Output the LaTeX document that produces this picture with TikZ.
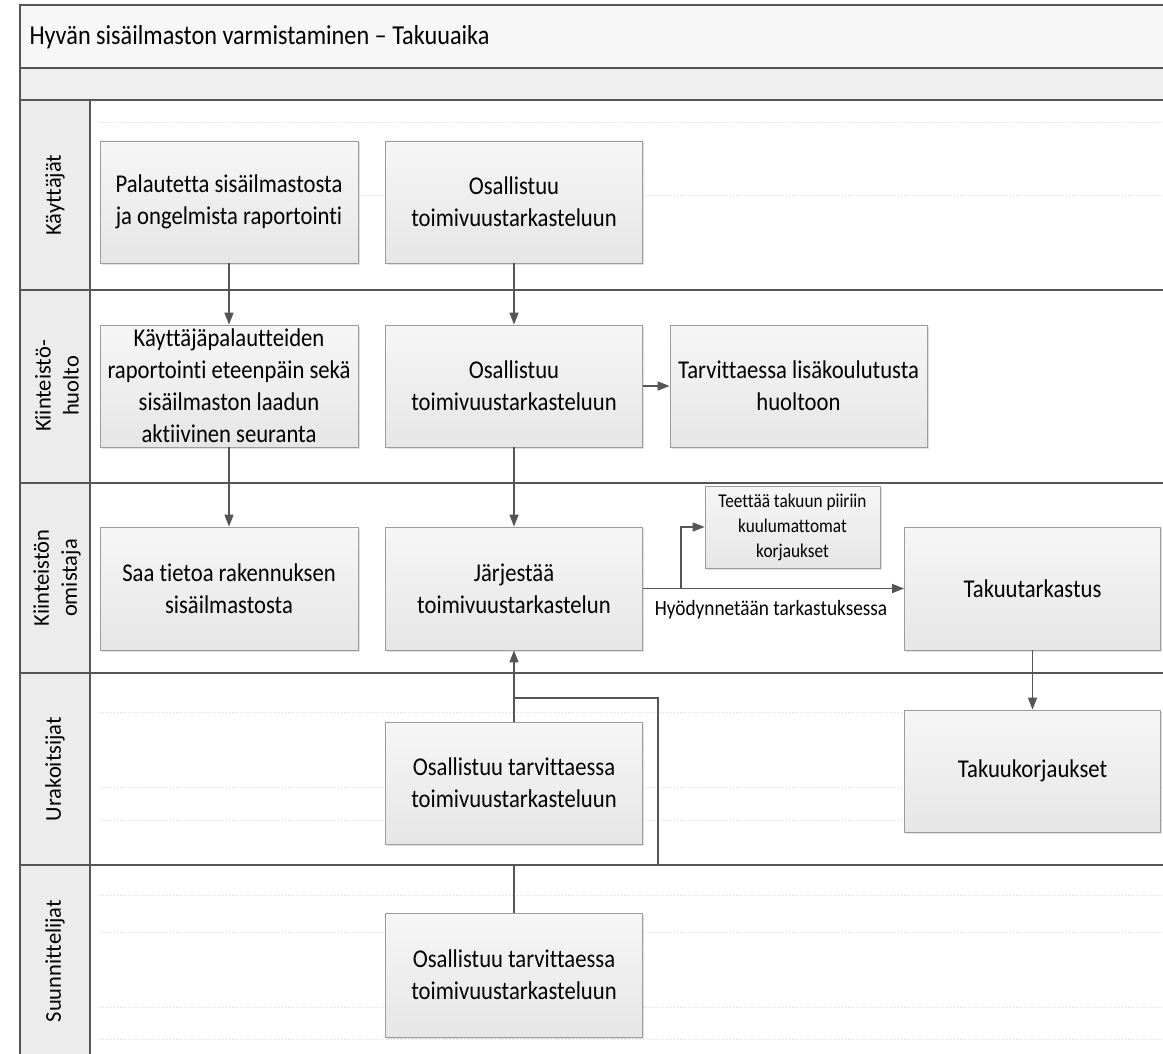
\documentclass[tikz,border=0pt]{standalone}
\usepackage{fontspec}
\setmainfont{Carlito}[Ligatures=NoCommon]
% horizontal text is set slightly condensed and taller
\newfontfamily\tallfont{Carlito}[FakeStretch=0.885,Ligatures=NoCommon]
\usetikzlibrary{arrows.meta,shadows}
\definecolor{linegray}{HTML}{555555}
\definecolor{boxedge}{HTML}{9C9C9C}
\definecolor{boxtop}{HTML}{F6F6F6}
\definecolor{boxbot}{HTML}{E6E6E6}
\definecolor{labfill}{HTML}{ECECEC}
\definecolor{titlefill}{HTML}{F7F7F7}
\definecolor{bandfill}{HTML}{EFEFEF}
\begin{document}
\begin{tikzpicture}[x=1pt,y=-1pt,
  lane/.style={draw=linegray,line width=1.8pt},
  guide/.style={draw=gray!28,dotted,line width=0.8pt},
  procbox/.style={draw=boxedge,line width=0.8pt,top color=boxtop,bottom color=boxbot,
    align=center,inner sep=0pt,font=\tallfont\fontsize{25.6}{32}\selectfont,
    drop shadow={shadow xshift=1.5pt,shadow yshift=-1.5pt,fill=black,opacity=0.12}},
  bigbox/.style={procbox,minimum width=258pt,minimum height=122pt},
  flow/.style={draw=linegray,line width=1.4pt,-{Triangle[length=12pt,width=9pt]}},
  conn/.style={draw=linegray,line width=1.4pt},
  lanelabel/.style={rotate=90,align=center,font=\fontsize{22.5}{28}\selectfont},
]
\useasboundingbox (0,0) rectangle (1163,1054);
\clip (0,0) rectangle (1163,1054);
\fill[white] (0,0) rectangle (1163,1054);

% pool header, spacer band and lane label column
\fill[titlefill] (20,5) rectangle (1170,68);
\fill[bandfill] (20,68) rectangle (1170,100);
\fill[labfill] (20,100) rectangle (90,1060);

% faint guide lines inside the lanes
\foreach \yy in {122,195,712,787,820,895,932,1007,1039}
  \draw[guide] (100,\yy) -- (1163,\yy);

% frame and lane separators
\draw[lane] (20,1060) -- (20,5) -- (1170,5);
\foreach \yy in {68,100,290,483,673,865}
  \draw[lane] (20,\yy) -- (1170,\yy);
\draw[lane] (90,100) -- (90,1060);

\node[anchor=west,font=\tallfont\fontsize{27.4}{32}\selectfont] (title) at (26,37)
  {Hyvän sisäilmaston varmistaminen – Takuuaika};

% lane labels
\node[lanelabel] (lk) at (55,195) {Käyttäjät};
\node[lanelabel] (lh) at (57,386) {Kiinteistö-\\huolto};
\node[lanelabel] (lo) at (57,578) {Kiinteistön\\omistaja};
\node[lanelabel] (lu) at (55,769) {Urakoitsijat};
\node[lanelabel] (ls) at (55,961) {Suunnittelijat};

% process steps
\node[bigbox] (p1) at (229,202) {Palautetta sisäilmastosta\\ja ongelmista raportointi};
\node[bigbox,minimum width=257pt] (o1) at (514,202) {Osallistuu\\toimivuustarkasteluun};
\node[bigbox] (k1) at (229,386) {Käyttäjäpalautteiden\\raportointi eteenpäin sekä\\sisäilmaston laadun\\aktiivinen seuranta};
\node[bigbox,minimum width=257pt] (o2) at (514,386) {Osallistuu\\toimivuustarkasteluun};
\node[bigbox,minimum width=257pt] (t1) at (798.5,386) {Tarvittaessa lisäkoulutusta\\huoltoon};
\node[bigbox,minimum height=123pt] (s1) at (229,588.5) {Saa tietoa rakennuksen\\sisäilmastosta};
\node[bigbox,minimum width=257pt,minimum height=123pt] (j1) at (514,588.5) {Järjestää\\toimivuustarkastelun};
\node[procbox,minimum width=175pt,minimum height=82pt,font=\tallfont\fontsize{19.5}{25}\selectfont] (te) at (792.5,527)
  {Teettää takuun piiriin\\kuulumattomat\\korjaukset};
\node[bigbox,minimum width=256pt,minimum height=123pt] (tk) at (1032.5,588.5) {Takuutarkastus};
\node[bigbox,minimum width=256pt] (kk) at (1032.5,771) {Takuukorjaukset};
\node[bigbox,minimum width=257pt] (u1) at (514,783) {Osallistuu tarvittaessa\\toimivuustarkasteluun};
\node[bigbox,minimum width=257pt,minimum height=124pt] (d1) at (514,975) {Osallistuu tarvittaessa\\toimivuustarkasteluun};

% connectors
\draw[flow] (p1) -- (k1);
\draw[flow] (o1) -- (o2);
\draw[flow] (k1) -- (s1);
\draw[flow] (o2) -- (j1);
\draw[flow] (o2) -- (t1);
\draw[flow] (j1) -- (tk);
\node[font=\tallfont\fontsize{21.8}{25}\selectfont] (hy) at (771,610) {Hyödynnetään tarkastuksessa};
\coordinate (br) at (681,588.5);
\draw[flow] (br) |- (te.west);
\draw[flow] (tk) -- (kk);
\draw[flow] (u1) -- (j1);
\coordinate (c1) at (658,865);
\coordinate (c2) at (658,698);
\coordinate (c3) at (514,698);
\draw[conn] (d1.north) |- (c1) -- (c2) -- (c3);
\end{tikzpicture}
\end{document}
